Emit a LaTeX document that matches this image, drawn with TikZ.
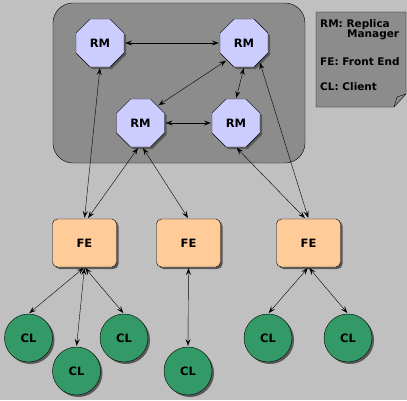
\documentclass[tikz,border=0pt]{standalone}
\usepackage{fontspec}
\setmainfont{DejaVu Sans}
\usetikzlibrary{arrows.meta,shapes.geometric,shadows}
\definecolor{bggray}{HTML}{C0C0C0}
\definecolor{grpgray}{HTML}{8C8C8C}
\definecolor{rmfill}{HTML}{CCCCFF}
\definecolor{fefill}{HTML}{FFCC99}
\definecolor{clfill}{HTML}{339966}
\tikzset{
  shade/.style={drop shadow={shadow xshift=2pt,shadow yshift=-2pt,fill=black!65,opacity=1}},
  rm/.style={regular polygon,regular polygon sides=8,minimum size=52pt,inner sep=0pt,draw,fill=rmfill,shade,font=\bfseries\fontsize{11.5}{13}\selectfont},
  fe/.style={rectangle,rounded corners=5pt,minimum width=64pt,minimum height=48pt,draw,fill=fefill,shade,font=\bfseries\fontsize{11.5}{13}\selectfont},
  cl/.style={circle,minimum size=48pt,inner sep=0pt,draw,fill=clfill,shade,font=\bfseries\fontsize{11.5}{13}\selectfont},
  link/.style={{Stealth[length=7pt,width=5pt,inset=3pt]}-{Stealth[length=7pt,width=5pt,inset=3pt]},shorten <=1pt,shorten >=1pt},
  legtext/.style={anchor=base west,inner sep=0pt,font=\bfseries\fontsize{10.5}{12}\selectfont}
}
\begin{document}
\begin{tikzpicture}[x=1pt,y=-1pt]
  \fill[bggray] (0,0) rectangle (407,400);
  \useasboundingbox (0,0) rectangle (407,400);
  \draw[fill=grpgray,rounded corners=20pt] (53,3) rectangle (305,163);
  \draw[fill=grpgray] (316,12) -- (406,12) -- (406,94) -- (394,107) -- (316,107) -- cycle;
  \draw (394,107) -- (397,97) -- (406,94);
  \node[legtext] (legRM) at (320,27) {RM: Replica};
  \node[legtext] (legMgr) at (347,37) {Manager};
  \node[legtext] (legFE) at (320,65) {FE: Front End};
  \node[legtext] (legCL) at (320,90) {CL: Client};
  \node[rm] (rmA) at (100,43) {RM};
  \node[rm] (rmB) at (244,43) {RM};
  \node[rm] (rmC) at (140.5,123) {RM};
  \node[rm] (rmD) at (236,123) {RM};
  \node[fe] (feA) at (84.5,243) {FE};
  \node[fe] (feB) at (188.5,243) {FE};
  \node[fe] (feC) at (308.5,243) {FE};
  \node[cl] (clA) at (28.5,338) {CL};
  \node[cl] (clB) at (76.5,371) {CL};
  \node[cl] (clC) at (124,338) {CL};
  \node[cl] (clD) at (188,371) {CL};
  \node[cl] (clE) at (268,338) {CL};
  \node[cl] (clF) at (348,338) {CL};
  \draw[link] (rmA.east) -- (rmB.west);
  \draw[link] (rmC.east) -- (rmD.west);
  \draw[link] (rmB.-135) -- (rmC.45);
  \draw[link] (rmB.south) -- (rmD.north);
  \draw[link] (rmA.south) -- (feA.north);
  \draw[link] ([xshift=-2pt]rmC.south) -- ([xshift=3pt]feA.north);
  \draw[link] ([xshift=2pt]rmC.south) -- (feB.north);
  \draw[link] (rmD.south) -- ([xshift=-3pt]feC.north);
  \draw[link] (rmB.-50) -- (feC.north);
  \draw[link] (feA.south) -- (clA.north);
  \draw[link] (feA.south) -- (clB.north);
  \draw[link] (feA.south) -- (clC.north);
  \draw[link] (feB.south) -- (clD.north);
  \draw[link] (feC.south) -- (clE.north);
  \draw[link] (feC.south) -- (clF.north);
\end{tikzpicture}
\end{document}
